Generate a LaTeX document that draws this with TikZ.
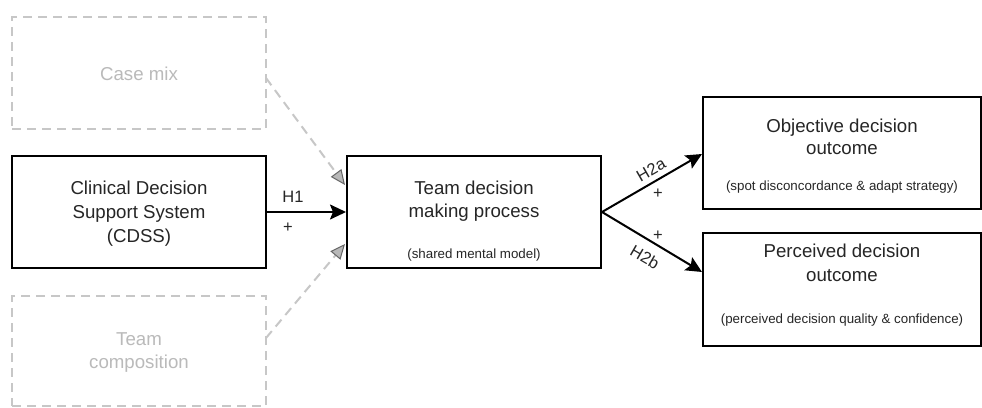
\documentclass[tikz,border=0pt]{standalone}
\usepackage{fontspec}
\setmainfont{Liberation Sans}
\usetikzlibrary{arrows.meta}
\begin{document}
\begin{tikzpicture}[x=1pt,y=-1pt,
  box/.style={draw=black, line width=2pt, minimum width=254pt, minimum height=112pt, inner sep=0pt},
  ghost/.style={draw=black!22, dash pattern=on 9pt off 6pt, line width=2pt, minimum width=254pt, minimum height=112pt, inner sep=0pt},
  maintxt/.style={font=\fontsize{18.67pt}{23pt}\selectfont, text=black!85, anchor=base, inner sep=0pt},
  ghosttxt/.style={font=\fontsize{18.67pt}{23pt}\selectfont, text=black!27, anchor=base, inner sep=0pt},
  smalltxt/.style={font=\fontsize{13.33pt}{16pt}\selectfont, text=black!85, anchor=base, inner sep=0pt},
  labtxt/.style={font=\fontsize{16.5pt}{19pt}\selectfont, text=black!85, inner sep=0pt},
  arr/.style={draw=black, line width=2pt, -{Stealth[length=16pt,width=15pt,inset=3pt]}},
  ghostarr/.style={draw=black!22, line width=2pt, dash pattern=on 9pt off 6pt,
     -{Triangle[length=15pt,width=13pt,color=black!60,fill=black!28,line width=1pt]}}
]
\useasboundingbox (0,0) rectangle (982,407);
\fill[white] (0,0) rectangle (982,407);

% boxes
\node[ghost] (casemix) at (139,73) {};
\node[box] (cdss) at (139,212) {};
\node[ghost, minimum height=110pt] (teamcomp) at (139,351) {};
\node[box] (team) at (474,212) {};
\node[box, minimum width=278pt] (obj) at (842,153) {};
\node[box, minimum width=278pt, minimum height=113pt] (perc) at (842,289.5) {};

% texts
\node[ghosttxt] (tcm) at (139,80) {Case mix};
\node[maintxt] (tc1) at (139,194) {Clinical Decision};
\node[maintxt] (tc2) at (139,218) {Support System};
\node[maintxt] (tc3) at (139,242) {(CDSS)};
\node[ghosttxt] (tt1) at (139,345) {Team};
\node[ghosttxt] (tt2) at (139,368) {composition};
\node[maintxt] (td1) at (474,194) {Team decision};
\node[maintxt] (td2) at (474,217) {making process};
\node[smalltxt] (td3) at (474,258) {(shared mental model)};
\node[maintxt] (to1) at (842,132) {Objective decision};
\node[maintxt] (to2) at (842,154) {outcome};
\node[smalltxt] (to3) at (842,190) {(spot disconcordance \& adapt strategy)};
\node[maintxt] (tp1) at (842,257) {Perceived decision};
\node[maintxt] (tp2) at (842,281) {outcome};
\node[smalltxt] (tp3) at (842,323) {(perceived decision quality \& confidence)};

% connector ends
\coordinate (cmS) at (266,78);
\coordinate (cmE) at (345,185);
\coordinate (tcS) at (266,338);
\coordinate (tcE) at (345,244);
\coordinate (h2aE) at (702,154);
\coordinate (h2bE) at (702,272);

% connectors
\draw[arr] (cdss.east) -- (team.west);
\draw[ghostarr] (cmS) -- (cmE);
\draw[ghostarr] (tcS) -- (tcE);
\draw[arr] (team.east) -- (h2aE);
\draw[arr] (team.east) -- (h2bE);

% labels
\node[labtxt] (lh1) at (293,197) {H1};
\node[labtxt] (lp1) at (288,228) {+};
\node[labtxt, rotate=30] (lh2a) at (651,170) {H2a};
\node[labtxt] (lp2a) at (658,194) {+};
\node[labtxt] (lp2b) at (658,236) {+};
\node[labtxt, rotate=-30] (lh2b) at (645,257) {H2b};
\end{tikzpicture}
\end{document}
